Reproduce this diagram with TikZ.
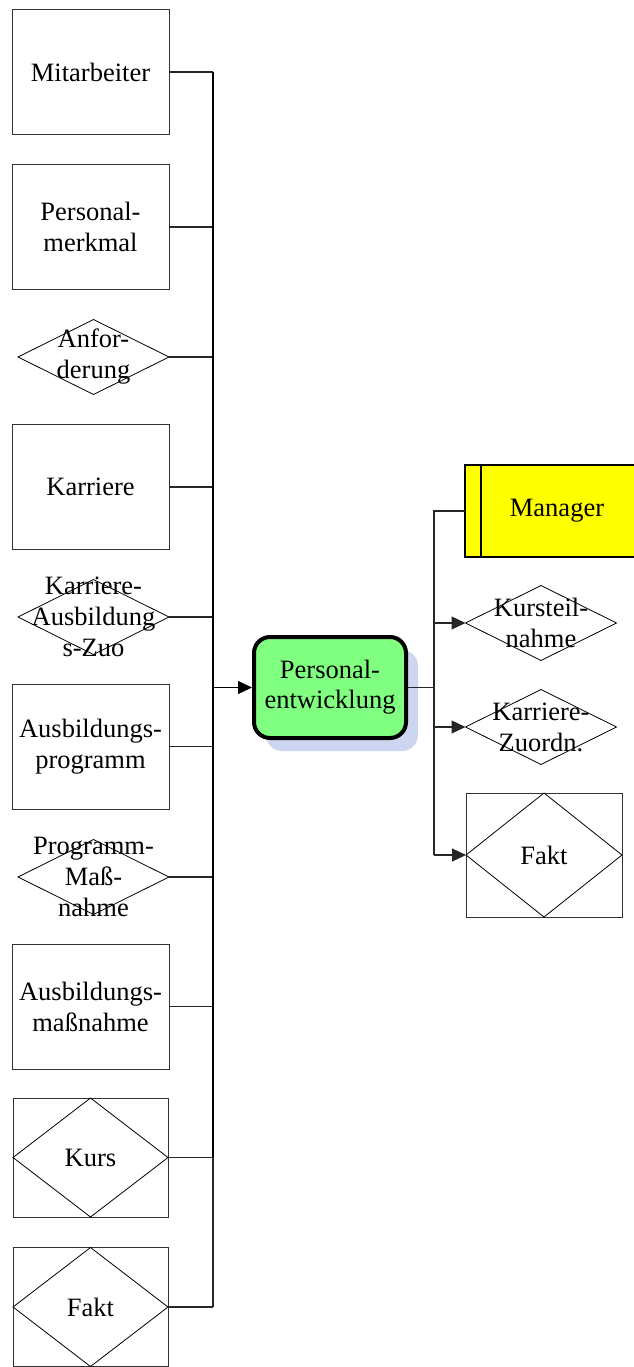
\documentclass[tikz,border=0pt]{standalone}
\usepackage{fontspec}
\setmainfont{Liberation Serif}
\usetikzlibrary{shapes.geometric,arrows.meta,shadows}
\definecolor{pegreen}{RGB}{128,255,128}
\definecolor{shadowc}{RGB}{204,214,240}
\definecolor{mgryellow}{RGB}{255,255,0}
\begin{document}
\begin{tikzpicture}[x=1pt,y=-1pt,
 ent/.style={draw=black!80, line width=1pt, minimum width=157pt, minimum height=125pt, inner sep=0pt, outer sep=0pt, font=\fontsize{26.5}{31}\selectfont, align=center},
 rel/.style={draw=black, line width=0.8pt, diamond, minimum width=151pt, minimum height=75pt, inner sep=0pt, outer sep=0pt},
 fbox/.style={draw=black!80, line width=1pt, minimum width=155pt, minimum height=119pt, inner sep=0pt, outer sep=0pt, font=\fontsize{26.5}{31}\selectfont},
 txt/.style={font=\fontsize{26.5}{31}\selectfont, align=center, inner sep=0pt},
 conn/.style={draw=black!85, line width=1.1pt},
 busline/.style={draw=black, line width=1.8pt},
 arr/.style={draw=black!85, line width=1.1pt, -{Triangle[length=14pt,width=13pt]}},
]
\useasboundingbox (0,0) rectangle (634,1367);

% left column
\node[ent] (mit) at (90.5,72) {Mitarbeiter};
\node[ent] (pm) at (90.5,227) {Personal-\\merkmal};
\node[rel] (anf) at (93.5,357) {};
\node[txt] at (anf) {Anfor-\\derung};
\node[ent] (kar) at (90.5,487) {Karriere};
\node[rel] (kaz) at (93.5,617) {};
\node[txt] at (kaz) {Karriere-\\Ausbildung\\s-Zuo};
\node[ent] (ap) at (90.5,746.5) {Ausbildungs-\\programm};
\node[rel] (pmn) at (93.5,877) {};
\node[txt] at (pmn) {Programm-\\Maß-\\nahme};
\node[ent] (am) at (90.5,1006.5) {Ausbildungs-\\maßnahme};
\node[fbox] (kurs) at (90.5,1157.5) {Kurs};
\draw[draw=black, line width=0.8pt] (kurs.north) -- (kurs.east) -- (kurs.south) -- (kurs.west) -- cycle;
\node[fbox] (fakt1) at (90.5,1307) {Fakt};
\draw[draw=black, line width=0.8pt] (fakt1.north) -- (fakt1.east) -- (fakt1.south) -- (fakt1.west) -- cycle;

% central process
\node[draw=black, line width=4pt, rounded corners=16pt, fill=pegreen,
      minimum width=152pt, minimum height=101pt, inner sep=0pt,
      font=\fontsize{26.5}{30}\selectfont, align=center,
      drop shadow={shadow xshift=12pt, shadow yshift=-13pt, fill=shadowc, opacity=1, draw=none}]
      (pe) at (330,687.5) {Personal-\\entwicklung};

% right column
\node[draw=black, line width=1.3pt, fill=mgryellow, minimum width=184pt, minimum height=92pt,
      inner sep=0pt, outer sep=0pt, font=\fontsize{26.5}{31}\selectfont] (mgr) at (557,511) {Manager};
\draw[draw=black, line width=1.3pt] ([xshift=16pt]mgr.north west) -- ([xshift=16pt]mgr.south west);
\node[rel] (kt) at (541,623) {};
\node[txt] at (kt) {Kursteil-\\nahme};
\node[rel] (kzo) at (541,727) {};
\node[txt] at (kzo) {Karriere-\\Zuordn.};
\node[ent, minimum width=156pt, minimum height=124pt] (fakt2) at (544,855) {Fakt};
\draw[draw=black, line width=0.8pt] (fakt2.north) -- (fakt2.east) -- (fakt2.south) -- (fakt2.west) -- cycle;

% left bus
\coordinate (lb) at (213,0);
\foreach \n in {mit,pm,anf,kar,kaz,ap,pmn,am,kurs,fakt1}{
  \draw[conn] (\n.east) -- (\n.east -| lb);
}
\draw[busline] (mit.east -| lb) -- (kurs.east -| lb);
\draw[conn] (kurs.east -| lb) -- (fakt1.east -| lb);
\draw[arr, draw=black] (pe.west -| lb) -- (pe.west);

% right bus
\coordinate (rb) at (434,0);
\draw[conn] (pe.east) -- (pe.east -| rb);
\draw[conn] (mgr.west) -- (mgr.west -| rb) -- (fakt2.west -| rb);
\draw[arr] (kt.west -| rb) -- (kt.west);
\draw[arr] (kzo.west -| rb) -- (kzo.west);
\draw[arr] (fakt2.west -| rb) -- (fakt2.west);
\end{tikzpicture}
\end{document}
